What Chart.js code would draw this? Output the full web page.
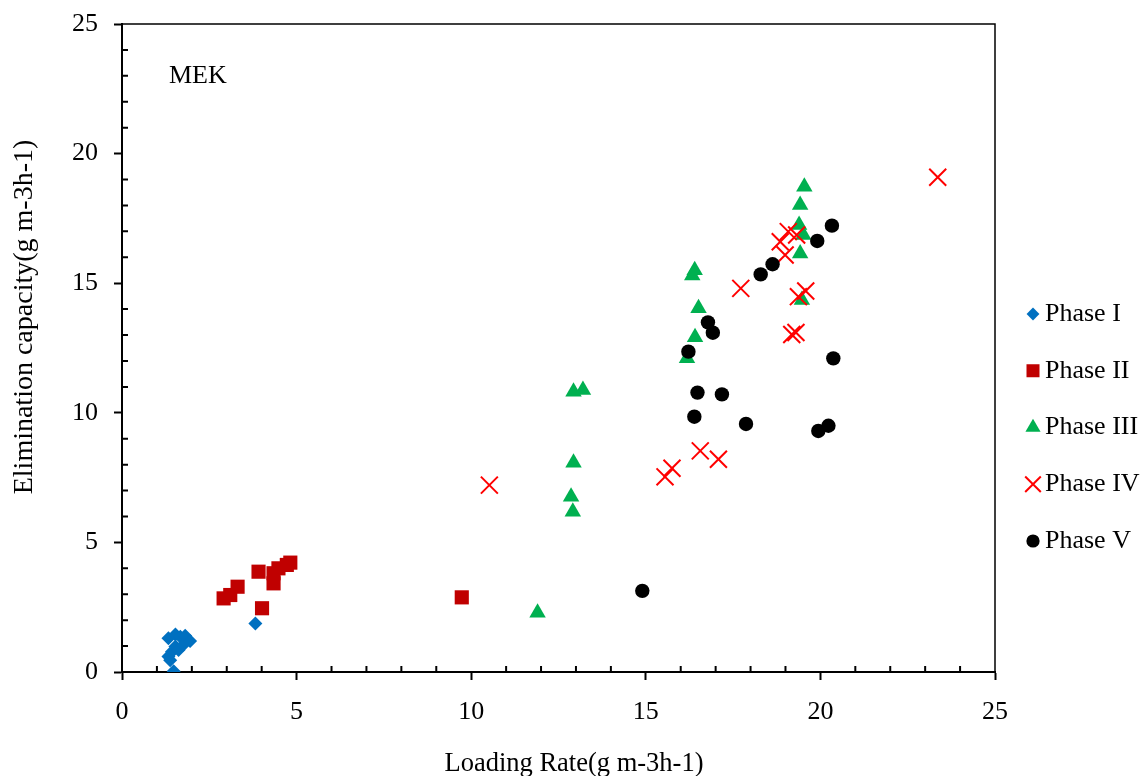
<!DOCTYPE html>
<html>
<head>
<meta charset="utf-8">
<script src="https://cdn.jsdelivr.net/npm/chart.js@4.4.0/dist/chart.umd.min.js"></script>
<style>
  html, body { margin: 0; padding: 0; background: #fff; }
</style>
</head>
<body>
<canvas id="ecChart" width="1145" height="776"></canvas>
<script>
// loading rate vs elimination capacity, one series per phase
const phaseNames = ["Phase I", "Phase II", "Phase III", "Phase IV", "Phase V"];

const phase1 = [[1.48,0.03],[1.38,0.45],[1.33,0.6],[1.43,0.78],[1.53,0.98],[1.62,0.85],
  [1.33,1.3],[1.53,1.45],[1.67,1.36],[1.81,1.4],[1.76,1.05],[1.95,1.2],[3.82,1.87]];
const phase2 = [[2.91,2.84],[3.1,2.97],[3.31,3.29],[3.91,3.87],[4.01,2.46],[4.34,3.81],
  [4.34,3.42],[4.48,4.0],[4.72,4.13],[4.82,4.22],[9.73,2.88]];
const phase3 = [[11.9,2.29],[12.91,6.18],[12.86,6.76],[12.93,8.07],[12.93,10.81],[13.2,10.88],
  [16.18,12.1],[16.41,12.91],[16.51,14.03],[16.33,15.3],[16.4,15.5],[19.42,16.15],
  [19.51,16.86],[19.39,17.25],[19.42,18.02],[19.54,18.72],[19.47,14.35]];
const phase4 = [[10.52,7.21],[15.55,7.53],[15.75,7.86],[16.56,8.53],[17.08,8.21],[17.72,14.8],
  [18.85,16.6],[19.08,16.99],[18.99,16.09],[19.32,16.86],[19.18,13.02],[19.3,13.1],
  [19.37,14.48],[19.58,14.7],[23.36,19.09]];
const phase5 = [[14.9,3.13],[16.22,12.36],[16.39,9.85],[16.48,10.78],[16.78,13.49],[16.92,13.09],
  [17.18,10.71],[17.87,9.57],[18.29,15.34],[18.63,15.73],[19.91,16.63],[20.33,17.22],
  [20.37,12.1],[19.94,9.3],[20.23,9.5]];

const xTicks = [0, 5, 10, 15, 20, 25];
const yTicks = [0, 5, 10, 15, 20, 25];
const xTitle = "Loading Rate(g m-3h-1)";
const yTitle = "Elimination capacity(g m-3h-1)";
const note = "MEK";

const FONT = "'Liberation Serif', 'Times New Roman', serif";

const toPts = arr => arr.map(p => ({ x: p[0], y: p[1] }));

const styles = [
  { pointStyle: 'rectRot',  color: '#0070C0', radius: 7,   border: 0 },
  { pointStyle: 'rect',     color: '#C00000', radius: 10,  border: 0 },
  { pointStyle: 'triangle', color: '#00B050', radius: 9.5, border: 0 },
  { pointStyle: 'crossRot', color: '#FF0000', radius: 12,  border: 2 },
  { pointStyle: 'circle',   color: '#000000', radius: 7.2, border: 0 }
];

const series = [phase1, phase2, phase3, phase4, phase5];

const datasets = series.map((s, i) => ({
  label: phaseNames[i],
  data: toPts(s),
  pointStyle: styles[i].pointStyle,
  pointRadius: styles[i].radius,
  pointHoverRadius: styles[i].radius,
  backgroundColor: styles[i].color,
  borderColor: styles[i].color,
  pointBorderWidth: styles[i].border,
  order: series.length - i   // later phases sit on top
}));

// small inward ticks at every unit, plus the top/right frame
const minorTicks = {
  id: 'minorTicks',
  beforeDatasetsDraw(chart) {
    const { ctx, chartArea: a, scales: { x, y } } = chart;
    ctx.save();
    ctx.strokeStyle = '#000';
    ctx.lineWidth = 2;
    ctx.beginPath();
    for (let v = x.min + 1; v < x.max; v++) {
      if (v % 5 === 0) continue;
      const px = x.getPixelForValue(v);
      ctx.moveTo(px, a.bottom);
      ctx.lineTo(px, a.bottom - 6);
    }
    for (let v = y.min + 1; v < y.max; v++) {
      if (v % 5 === 0) continue;
      const py = y.getPixelForValue(v);
      ctx.moveTo(a.left, py);
      ctx.lineTo(a.left + 6, py);
    }
    ctx.stroke();
    ctx.lineWidth = 1.5;
    ctx.beginPath();
    ctx.moveTo(a.left, a.top);
    ctx.lineTo(a.right, a.top);
    ctx.lineTo(a.right, a.bottom);
    ctx.stroke();
    ctx.restore();
  }
};

// axis titles, the MEK tag and the legend on the right
const annotations = {
  id: 'annotations',
  afterDraw(chart) {
    const { ctx, chartArea: a } = chart;
    ctx.save();
    ctx.fillStyle = '#000';
    ctx.font = '26.5px ' + FONT;

    ctx.textAlign = 'center';
    ctx.textBaseline = 'alphabetic';
    ctx.fillText(xTitle, a.left + 452, 771);

    ctx.save();
    ctx.font = '28px ' + FONT;
    ctx.translate(32, a.top + 293);
    ctx.rotate(-Math.PI / 2);
    ctx.fillText(yTitle, 0, 0);
    ctx.restore();

    ctx.font = '26px ' + FONT;
    ctx.textAlign = 'left';
    ctx.fillText(note, a.left + 47, a.top + 59);

    const lx = a.right + 38;
    const ly = 314;
    const gap = 56.75;
    ctx.textBaseline = 'middle';
    chart.data.datasets.forEach((ds, i) => {
      const cy = ly + i * gap;
      ctx.save();
      ctx.fillStyle = ds.backgroundColor;
      ctx.strokeStyle = ds.borderColor;
      ctx.lineWidth = ds.pointBorderWidth || 0;
      Chart.helpers.drawPoint(ctx, {
        pointStyle: ds.pointStyle,
        radius: ds.pointRadius * 0.92,
        rotation: 0,
        borderWidth: ds.pointBorderWidth || 0
      }, lx, cy);
      ctx.restore();
      ctx.fillText(ds.label, lx + 12, cy);
    });
    ctx.restore();
  }
};

const tickFont = { family: FONT, size: 26 };

new Chart(document.getElementById('ecChart'), {
  type: 'scatter',
  data: { datasets },
  plugins: [minorTicks, annotations],
  options: {
    responsive: false,
    devicePixelRatio: 1,
    animation: false,
    layout: { padding: { top: 24, right: 150, bottom: 0, left: 0 } },
    plugins: {
      legend: { display: false },
      tooltip: { enabled: false }
    },
    scales: {
      x: {
        type: 'linear',
        min: 0,
        max: 25,
        afterBuildTicks: s => { s.ticks = xTicks.map(v => ({ value: v })); },
        afterFit: s => { s.height = 104; s.paddingLeft = 0; s.paddingRight = 0; },
        grid: { drawOnChartArea: false, drawTicks: true, tickLength: 8, tickColor: '#000', tickWidth: 2 },
        border: { color: '#000', width: 2 },
        ticks: { font: tickFont, color: '#000', padding: 17, maxRotation: 0 }
      },
      y: {
        type: 'linear',
        min: 0,
        max: 25,
        afterBuildTicks: s => { s.ticks = yTicks.map(v => ({ value: v })); },
        afterFit: s => { s.width = 122; s.paddingTop = 0; s.paddingBottom = 0; },
        grid: { drawOnChartArea: false, drawTicks: true, tickLength: 8, tickColor: '#000', tickWidth: 2 },
        border: { color: '#000', width: 2 },
        ticks: { font: tickFont, color: '#000', padding: 16 }
      }
    }
  }
});
</script>
</body>
</html>
